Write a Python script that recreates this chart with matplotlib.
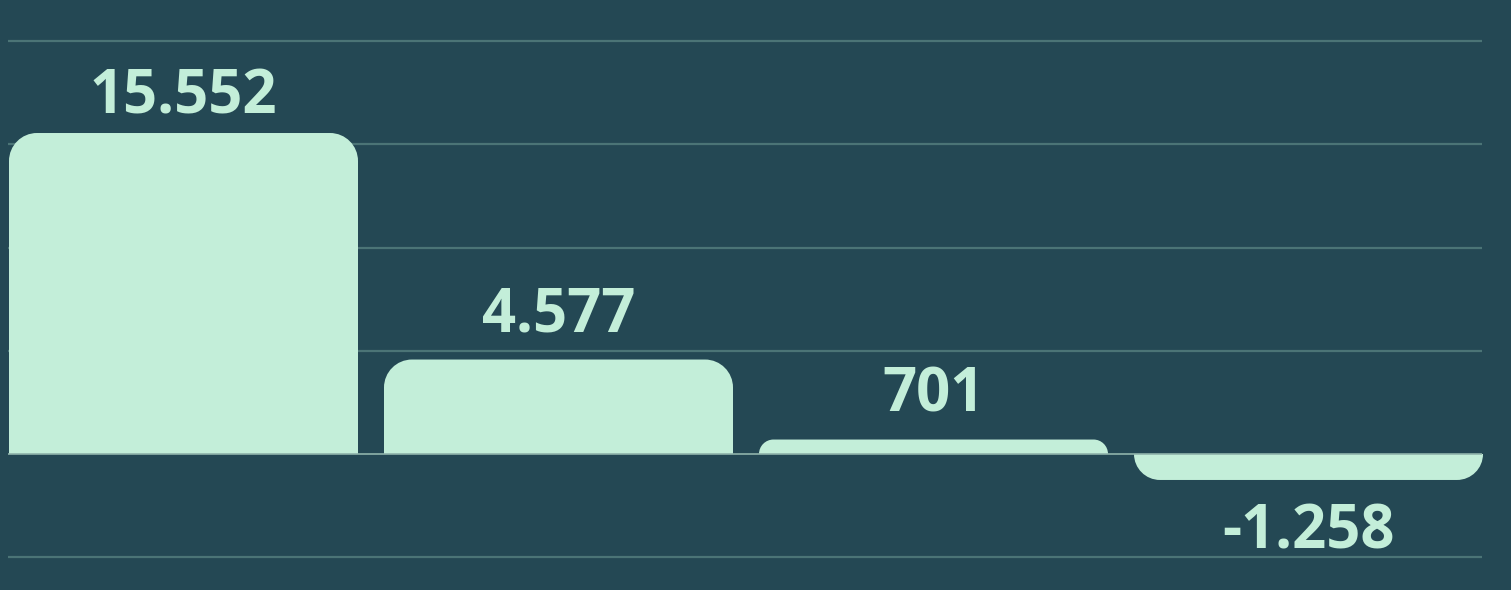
import matplotlib
matplotlib.use("Agg")
import matplotlib.pyplot as plt
from matplotlib.path import Path
from matplotlib.patches import PathPatch

values = [15552, 4577, 701, -1258]
labels = ["15.552", "4.577", "701", "-1.258"]
grid_ticks = [-5000, 0, 5000, 10000, 15000, 20000]

BG = "#244854"
BAR = "#c3eed9"
GRID = "#4b7476"
ZERO = "#8fb3ab"

W, H, DPI = 1511, 590, 100
fig = plt.figure(figsize=(W / DPI, H / DPI), dpi=DPI, facecolor=BG)
ax = fig.add_axes([0, 0, 1, 1], facecolor=BG)

# pixel scale: 375 px per category, 103.2 px per 5000
px_x = 375.0
px_y = 103.2 / 5000.0
x0_px, zero_px = 183.5, 454.0
ax.set_xlim(-x0_px / px_x, (W - x0_px) / px_x)
ax.set_ylim(-(H - zero_px) / px_y, zero_px / px_y)
ax.axis("off")

gx0, gx1 = (8 - x0_px) / px_x, (1482 - x0_px) / px_x
for t in grid_ticks:
    if t != 0:
        ax.hlines(t, gx0, gx1, color=GRID, lw=1.6, zorder=1)

width = 349 / px_x
K = 0.5523


def rounded_bar(xc, v, r_px=28):
    h_px = abs(v) * px_y
    r = min(r_px, h_px)
    rx = r / px_x
    ry = r / px_y
    s = 1 if v >= 0 else -1
    xl, xr = xc - width / 2, xc + width / 2
    top = v
    ryy = s * ry
    verts = [
        (xl, 0), (xl, top - ryy),
        (xl, top - ryy + K * ryy), (xl + rx - K * rx, top), (xl + rx, top),
        (xr - rx, top),
        (xr - rx + K * rx, top), (xr, top - ryy + K * ryy), (xr, top - ryy),
        (xr, 0), (xl, 0),
    ]
    codes = [Path.MOVETO, Path.LINETO,
             Path.CURVE4, Path.CURVE4, Path.CURVE4,
             Path.LINETO,
             Path.CURVE4, Path.CURVE4, Path.CURVE4,
             Path.LINETO, Path.CLOSEPOLY]
    return PathPatch(Path(verts, codes), facecolor=BAR, edgecolor="none", zorder=2)


for i, (v, lab) in enumerate(zip(values, labels)):
    ax.add_patch(rounded_bar(i, v))
    if v >= 0:
        y = min(v + 28 / px_y, (zero_px - 113) / px_y)
        ax.text(i, y, lab, ha="center", va="baseline", fontsize=43,
                fontweight="bold", family=["Open Sans", "DejaVu Sans"], color=BAR, zorder=4)
    else:
        y = v - 23 / px_y
        ax.text(i, y, lab, ha="center", va="top", fontsize=43,
                fontweight="bold", family=["Open Sans", "DejaVu Sans"], color=BAR, zorder=4)

ax.hlines(0, gx0, gx1, color=ZERO, lw=1.2, zorder=3)

fig.savefig("out.png", dpi=DPI, facecolor=BG)
